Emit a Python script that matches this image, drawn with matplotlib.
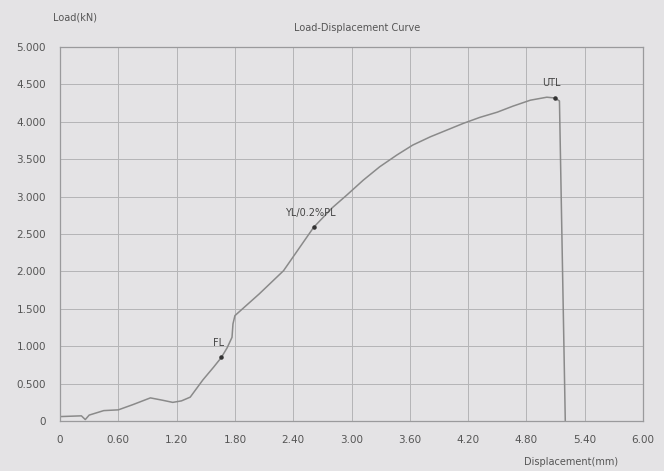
import matplotlib
matplotlib.use('Agg')
import matplotlib.pyplot as plt
import numpy as np

# curve (mm, kN)
disp = [0, 0.22, 0.26, 0.30, 0.45, 0.60, 0.75, 0.93, 1.05, 1.16, 1.25, 1.34,
        1.47, 1.58, 1.66, 1.72, 1.77, 1.78, 1.80, 2.05, 2.30, 2.61, 2.80, 2.95,
        3.12, 3.29, 3.47, 3.63, 3.81, 3.98, 4.15, 4.32, 4.50, 4.66, 4.84, 5.01,
        5.09, 5.14, 5.20]
load = [0.06, 0.07, 0.02, 0.08, 0.14, 0.15, 0.22, 0.31, 0.28, 0.25, 0.27, 0.32,
        0.55, 0.72, 0.85, 0.98, 1.12, 1.30, 1.41, 1.70, 2.01, 2.59, 2.85, 3.02,
        3.22, 3.40, 3.56, 3.69, 3.80, 3.89, 3.98, 4.06, 4.13, 4.21, 4.29, 4.33,
        4.32, 4.28, 0.0]

point_names = ["FL", "YL/0.2%PL", "UTL"]
point_disp = [1.66, 2.61, 5.09]
point_load = [0.85, 2.59, 4.32]

xticks = [0, 0.6, 1.2, 1.8, 2.4, 3.0, 3.6, 4.2, 4.8, 5.4, 6.0]
xlabels = ["0", "0.60", "1.20", "1.80", "2.40", "3.00", "3.60", "4.20", "4.80", "5.40", "6.00"]
yticks = [0, 0.5, 1.0, 1.5, 2.0, 2.5, 3.0, 3.5, 4.0, 4.5, 5.0]
ylabels = ["0", "0.500", "1.000", "1.500", "2.000", "2.500", "3.000", "3.500", "4.000", "4.500", "5.000"]

bg = '#e4e3e5'
txt = '#555555'

fig = plt.figure(figsize=(6.64, 4.71), dpi=100, facecolor=bg)
ax = fig.add_axes([0.0904, 0.106, 0.878, 0.794], facecolor=bg)

ax.plot(disp, load, color='#8a8a8a', lw=1.1)
ax.scatter(point_disp, point_load, s=5, color='#333333', zorder=3)
for name, x, y in zip(point_names, point_disp, point_load):
    ax.text(x - 0.03, y + 0.13, name, fontsize=7, color='#444444', ha='center', va='bottom')

ax.set_xlim(0, 6.0)
ax.set_ylim(0, 5.0)
ax.set_xticks(xticks)
ax.set_xticklabels(xlabels)
ax.set_yticks(yticks)
ax.set_yticklabels(ylabels)
ax.tick_params(labelsize=7.5, colors=txt, length=0, pad=10)
ax.grid(True, color='#b4b4b6', lw=0.7)
for s in ax.spines.values():
    s.set_color('#9a9a9c')
    s.set_linewidth(0.9)

fig.text(0.538, 0.94, "Load-Displacement Curve", fontsize=7, color=txt, ha='center', va='center')
fig.text(0.113, 0.962, "Load(kN)", fontsize=7, color=txt, ha='center', va='center')
fig.text(0.86, 0.019, "Displacement(mm)", fontsize=7, color=txt, ha='center', va='center')

fig.savefig("out.png", dpi=100, facecolor=bg)
